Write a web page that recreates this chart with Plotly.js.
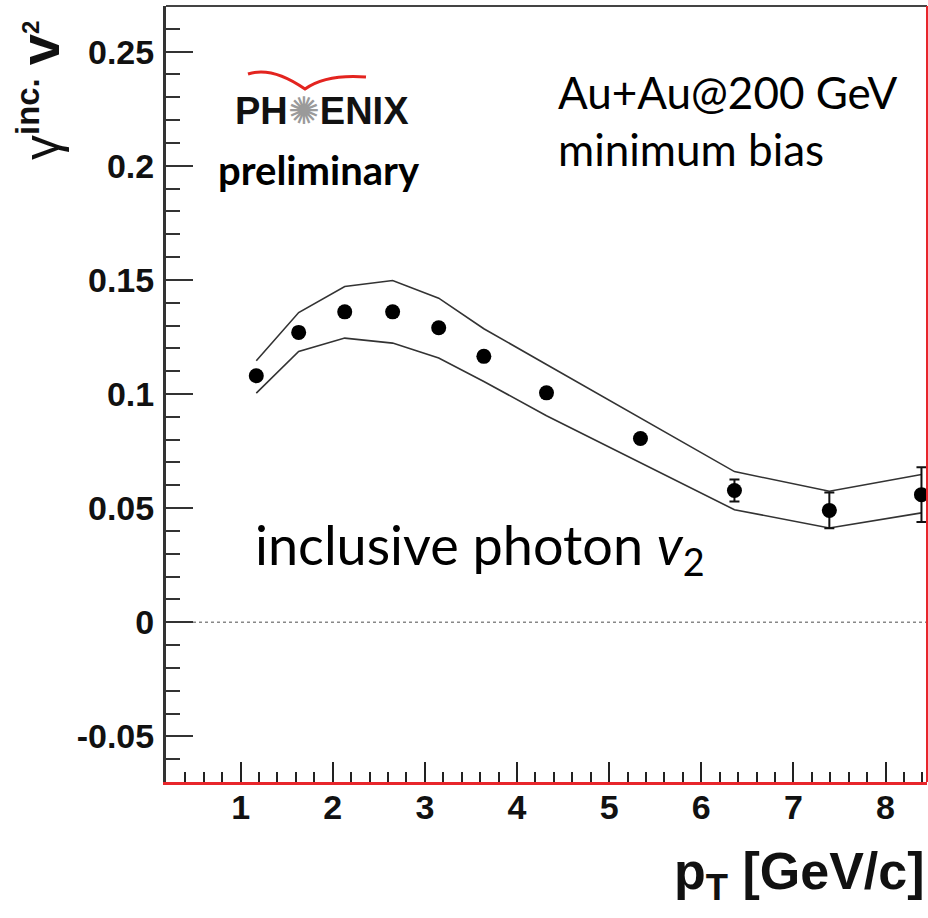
<!DOCTYPE html>
<html>
<head>
<meta charset="utf-8">
<script src="https://cdn.plot.ly/plotly-3.0.1.min.js"></script>
<style>html,body{margin:0;padding:0;background:#fff;}#chart{width:928px;height:918px;}</style>
</head>
<body>
<div id="chart"></div>
<script>
// ---- data ----
const pT = [1.17, 1.63, 2.13, 2.65, 3.15, 3.64, 4.32, 5.34, 6.36, 7.39, 8.39];
const v2 = [0.108, 0.127, 0.136, 0.136, 0.129, 0.1165, 0.1005, 0.0805, 0.0577, 0.049, 0.0559];
const v2StatErr = [0.002, 0.002, 0.002, 0.002, 0.002, 0.002, 0.002, 0.002, 0.0048, 0.0078, 0.012];
const sysUpper = [0.1146, 0.1357, 0.1471, 0.1497, 0.142, 0.1286, 0.1129, 0.0893, 0.066, 0.0574, 0.0647];
const sysLower = [0.1004, 0.1186, 0.1245, 0.1223, 0.1158, 0.1055, 0.0905, 0.0699, 0.0493, 0.0413, 0.0479];
const xTickVals = [1, 2, 3, 4, 5, 6, 7, 8];
const xTickText = ['1', '2', '3', '4', '5', '6', '7', '8'];
const yTickVals = [-0.05, 0, 0.05, 0.1, 0.15, 0.2, 0.25];
const yTickText = ['-0.05', '0', '0.05', '0.1', '0.15', '0.2', '0.25'];

const W = 928, H = 918;
const M = {l: 166, r: 1, t: 6, b: 136};
const PW = W - M.l - M.r, PH = H - M.t - M.b;
const px = x => (x - M.l) / PW;
const py = y => (H - M.b - y) / PH;

const tickFont = {family: 'Liberation Sans, Arial, sans-serif', size: 34, color: '#111', weight: 'bold'};

const traces = [
  {x: pT, y: sysUpper, type: 'scatter', mode: 'lines', line: {color: '#333', width: 1.6}, hoverinfo: 'skip', showlegend: false},
  {x: pT, y: sysLower, type: 'scatter', mode: 'lines', line: {color: '#333', width: 1.6}, hoverinfo: 'skip', showlegend: false},
  {x: pT, y: v2, type: 'scatter', mode: 'markers',
   marker: {color: '#000', size: 15, symbol: 'circle'},
   error_y: {type: 'data', array: v2StatErr, visible: true, color: '#111', thickness: 2, width: 5},
   showlegend: false}
];

const layout = {
  width: W, height: H,
  margin: M,
  paper_bgcolor: '#fff', plot_bgcolor: '#fff',
  showlegend: false,
  xaxis: {
    range: [0.19, 8.45],
    tickmode: 'array', tickvals: xTickVals, ticktext: xTickText,
    ticks: 'inside', ticklen: 20, tickwidth: 2, tickcolor: '#222',
    minor: {dtick: 0.2, tick0: 0, ticks: 'inside', ticklen: 10, tickwidth: 2, tickcolor: '#222', showgrid: false},
    showgrid: false, zeroline: false,
    showline: true, linecolor: '#e8262b', linewidth: 3,
    tickfont: tickFont, ticklabelstandoff: -7
  },
  yaxis: {
    range: [-0.07, 0.27],
    tickmode: 'array', tickvals: yTickVals, ticktext: yTickText,
    ticks: 'inside', ticklen: 27, tickwidth: 2, tickcolor: '#333',
    minor: {dtick: 0.01, tick0: 0, ticks: 'inside', ticklen: 14, tickwidth: 2, tickcolor: '#333', showgrid: false},
    showgrid: false, zeroline: false,
    showline: true, linecolor: '#333', linewidth: 3,
    tickfont: tickFont, ticklabelstandoff: 2
  },
  shapes: [
    // zero reference line (dotted)
    {type: 'line', xref: 'paper', yref: 'y', x0: px(193), x1: 1, y0: 0, y1: 0, line: {color: '#888', width: 1.5, dash: 'dot'}},
    // top frame
    {type: 'line', xref: 'paper', yref: 'paper', x0: 0, x1: 1, y0: 1, y1: 1, line: {color: '#444', width: 2}},
    // right frame (red)
    {type: 'line', xref: 'paper', yref: 'paper', x0: 1, x1: 1, y0: 0, y1: 1, line: {color: '#e8262b', width: 2}},
    // PHENIX logo swoosh
    {type: 'path', xref: 'paper', yref: 'paper',
     path: 'M ' + px(248) + ' ' + py(74) + ' Q ' + px(272) + ' ' + py(66) + ' ' + px(305) + ' ' + py(89) +
           ' Q ' + px(326) + ' ' + py(74) + ' ' + px(366) + ' ' + py(77),
     line: {color: '#e3241f', width: 3}}
  ],
  annotations: [
    {xref: 'paper', yref: 'paper', x: px(40), y: py(90), xanchor: 'center', yanchor: 'middle', textangle: -90, showarrow: false,
     text: '<span style="font-size:50px">γ</span><sup><b>inc.</b></sup> <b><span style="font-size:56px">v</span></b><sup><b><span style="font-size:24px">2</span></b></sup>',
     font: {family: 'Liberation Sans, Arial, sans-serif', size: 47, color: '#111'}},
    {xref: 'paper', yref: 'paper', x: 1, y: py(875), xanchor: 'right', yanchor: 'middle', showarrow: false,
     text: '<b>p<sub>T</sub> [GeV/c]</b>',
     font: {family: 'Liberation Sans, Arial, sans-serif', size: 52, color: '#111'}},
    {xref: 'paper', yref: 'paper', x: px(322), y: py(111), xanchor: 'center', yanchor: 'middle', showarrow: false,
     text: '<b>PH</b><span style="color:#9a9a9a">✺</span><b>ENIX</b>',
     font: {family: 'Liberation Sans, Arial, sans-serif', size: 38, color: '#111'}},
    {xref: 'paper', yref: 'paper', x: px(319), y: py(170), xanchor: 'center', yanchor: 'middle', showarrow: false,
     text: '<b>preliminary</b>',
     font: {family: 'Lato, sans-serif', size: 40, color: '#000'}},
    {xref: 'paper', yref: 'paper', x: px(556), y: py(64), xanchor: 'left', yanchor: 'top', align: 'left', showarrow: false,
     text: 'Au+Au@200 GeV<br>minimum bias',
     font: {family: 'Lato, sans-serif', size: 44, color: '#000'}},
    {xref: 'paper', yref: 'paper', x: px(253), y: py(548), xanchor: 'left', yanchor: 'middle', showarrow: false,
     text: 'inclusive photon <i>v</i><sub>2</sub>',
     font: {family: 'Lato, sans-serif', size: 54, color: '#000'}}
  ]
};

Plotly.newPlot('chart', traces, layout, {staticPlot: true, displayModeBar: false});
</script>
</body>
</html>
